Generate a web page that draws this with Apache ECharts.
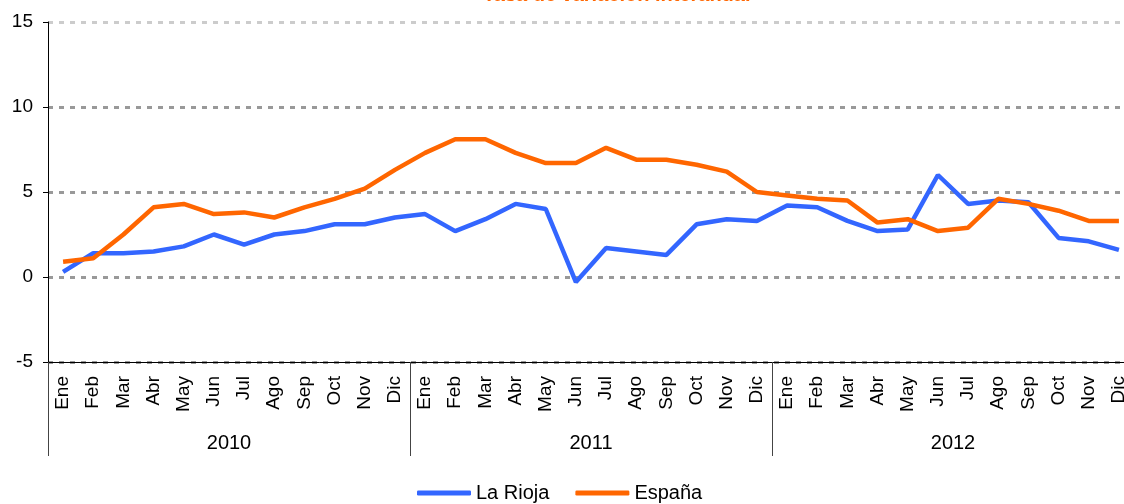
<!DOCTYPE html>
<html>
<head>
<meta charset="utf-8">
<script src="https://cdn.jsdelivr.net/npm/echarts@6/dist/echarts.min.js"></script>
<style>
  html, body { margin: 0; padding: 0; background: #fff; overflow: hidden; }
  #chart { width: 1136px; height: 504px; }
</style>
</head>
<body>
<div id="chart"></div>
<script>
const months = ['Ene', 'Feb', 'Mar', 'Abr', 'May', 'Jun', 'Jul', 'Ago', 'Sep', 'Oct', 'Nov', 'Dic'];
const years = ['2010', '2011', '2012'];

const laRioja = [
  0.3, 1.4, 1.4, 1.5, 1.8, 2.5, 1.9, 2.5, 2.7, 3.1, 3.1, 3.5,
  3.7, 2.7, 3.4, 4.3, 4.0, -0.3, 1.7, 1.5, 1.3, 3.1, 3.4, 3.3,
  4.2, 4.1, 3.3, 2.7, 2.8, 6.0, 4.3, 4.5, 4.4, 2.3, 2.1, 1.6
];
const espana = [
  0.9, 1.1, 2.5, 4.1, 4.3, 3.7, 3.8, 3.5, 4.1, 4.6, 5.2, 6.3,
  7.3, 8.1, 8.1, 7.3, 6.7, 6.7, 7.6, 6.9, 6.9, 6.6, 6.2, 5.0,
  4.8, 4.6, 4.5, 3.2, 3.4, 2.7, 2.9, 4.6, 4.3, 3.9, 3.3, 3.3
];

const monthLabels = [];
years.forEach(() => months.forEach(m => monthLabels.push(m)));

const font = "'Liberation Sans', Arial, Helvetica, sans-serif";

const chart = echarts.init(document.getElementById('chart'), null, { renderer: 'canvas' });

chart.setOption({
  backgroundColor: '#fff',
  animation: false,
  textStyle: { fontFamily: font },
  title: {
    text: 'Tasa de variación interanual',
    left: 478,
    top: -20,
    textStyle: { color: '#ff6600', fontSize: 20, fontWeight: 'bold', fontFamily: font }
  },
  legend: {
    bottom: -4,
    left: 412,
    itemWidth: 54,
    itemHeight: 5,
    itemGap: 26,
    icon: 'roundRect',
    textStyle: { fontSize: 20, color: '#000', fontFamily: font },
    data: ['La Rioja', 'España']
  },
  grid: { left: 48, width: 1086, top: 22, bottom: 142 },
  xAxis: [
    {
      type: 'category',
      data: monthLabels,
      boundaryGap: true,
      axisLine: { show: true, onZero: false, lineStyle: { color: '#000', width: 1 } },
      axisTick: { show: false },
      axisLabel: {
        interval: 0,
        rotate: 90,
        margin: 14,
        fontSize: 19,
        color: '#000',
        fontFamily: font
      }
    },
    {
      type: 'category',
      data: years,
      position: 'bottom',
      boundaryGap: true,
      axisLine: { show: false, onZero: false },
      axisTick: {
        show: true,
        interval: 0,
        length: 94,
        lineStyle: { color: '#444', width: 1 }
      },
      axisLabel: { margin: 71, fontSize: 20, color: '#000', fontFamily: font }
    }
  ],
  yAxis: {
    type: 'value',
    min: -5,
    max: 15,
    interval: 5,
    axisLine: { show: true, lineStyle: { color: '#000', width: 1 } },
    axisTick: { show: true, length: 5, lineStyle: { color: '#000' } },
    axisLabel: { fontSize: 19, color: '#000', margin: 15, fontFamily: font },
    splitLine: {
      show: true,
      lineStyle: {
        color: ['#999', '#999', '#999', '#999', '#ccc'],
        width: 3,
        type: [5, 6]
      }
    }
  },
  series: [
    {
      name: 'La Rioja',
      type: 'line',
      xAxisIndex: 0,
      data: laRioja,
      showSymbol: false,
      symbol: 'none',
      lineStyle: { color: '#3366ff', width: 4.5 },
      itemStyle: { color: '#3366ff' }
    },
    {
      name: 'España',
      type: 'line',
      xAxisIndex: 0,
      data: espana,
      showSymbol: false,
      symbol: 'none',
      lineStyle: { color: '#ff6600', width: 4.5 },
      itemStyle: { color: '#ff6600' }
    }
  ]
});
</script>
</body>
</html>
